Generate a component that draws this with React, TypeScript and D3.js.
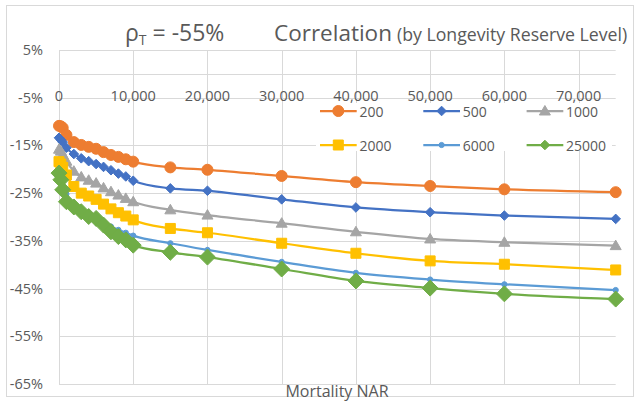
import React, { useEffect, useRef } from 'react';
import * as d3 from 'd3';

// Mortality NAR values (x) shared by every series
const nar = [0, 250, 500, 1000, 2000, 3000, 4000, 5000, 6000, 7000, 8000, 9000, 10000, 15000, 20000, 30000, 40000, 50000, 60000, 75000];

// correlation in %, one list per longevity reserve level
const lr200 = [-10.9, -11.0, -11.3, -12.8, -14.3, -14.9, -15.3, -15.7, -16.4, -17.0, -17.4, -17.9, -18.4, -19.6, -20.1, -21.4, -22.7, -23.5, -24.2, -24.8];
const lr500 = [-13.4, -13.8, -14.3, -15.5, -16.8, -17.7, -18.3, -18.9, -19.5, -20.2, -20.9, -21.5, -22.4, -24.0, -24.5, -26.3, -28.0, -29.0, -29.7, -30.4];
const lr1000 = [-15.8, -16.2, -16.9, -18.3, -20.4, -21.6, -22.3, -22.9, -23.9, -24.7, -25.4, -26.1, -26.8, -28.5, -29.6, -31.3, -33.1, -34.6, -35.3, -36.0];
const lr2000 = [-18.4, -18.9, -19.6, -21.2, -23.6, -25.0, -25.6, -26.3, -27.3, -28.3, -29.1, -29.8, -30.6, -32.4, -33.3, -35.5, -37.6, -39.2, -39.9, -41.1];
const lr6000 = [-20.6, -21.5, -22.6, -25.2, -27.3, -28.4, -29.3, -29.9, -31.0, -32.0, -32.7, -33.3, -33.9, -35.5, -36.9, -39.4, -41.7, -43.1, -44.1, -45.3];
const lr25000 = [-20.8, -22.2, -24.3, -26.8, -27.9, -28.9, -29.9, -30.3, -31.7, -33.1, -34.1, -34.8, -35.9, -37.4, -38.4, -40.9, -43.4, -44.9, -46.1, -47.2];

const seriesNames = ['200', '500', '1000', '2000', '6000', '25000'];
const seriesValues = [lr200, lr500, lr1000, lr2000, lr6000, lr25000];

const xTicks = [0, 10000, 20000, 30000, 40000, 50000, 60000, 70000];
const yTicks = [5, -5, -15, -25, -35, -45, -55, -65];

const colors = ['#ED7D31', '#4472C4', '#A5A5A5', '#FFC000', '#5B9BD5', '#70AD47'];
const shapes = ['circle', 'diamond', 'triangle', 'square', 'dot', 'bigdiamond'];

const FONT = '"Open Sans", sans-serif';
const TEXT = '#595959';

function markerPath(shape) {
  switch (shape) {
    case 'circle':
      return d3.symbol(d3.symbolCircle, Math.PI * 5.5 * 5.5)();
    case 'dot':
      return d3.symbol(d3.symbolCircle, Math.PI * 2.6 * 2.6)();
    case 'diamond':
      return 'M0,-4.8L4.8,0L0,4.8L-4.8,0Z';
    case 'bigdiamond':
      return 'M0,-8L8,0L0,8L-8,0Z';
    case 'triangle':
      return 'M0,-5.5L5.5,4L-5.5,4Z';
    case 'square':
      return 'M-5,-5H5V5H-5Z';
    default:
      return '';
  }
}

export default function App() {
  const ref = useRef(null);

  useEffect(() => {
    const svg = d3.select(ref.current);
    svg.selectAll('*').remove();

    const x = d3.scaleLinear().domain([0, 75000]).range([59, 615.7]);
    const y = d3.scaleLinear().domain([-65, 5]).range([384, 50]);

    svg.append('rect')
      .attr('x', 6.5).attr('y', 5.5).attr('width', 627).attr('height', 391)
      .attr('fill', 'white').attr('stroke', '#D9D9D9');

    // gridlines
    const grid = svg.append('g').attr('stroke', '#D9D9D9').attr('stroke-width', 1);
    grid.selectAll('line.h')
      .data(yTicks.concat([0]))
      .enter().append('line')
      .attr('x1', x(0)).attr('x2', x(75000))
      .attr('y1', d => Math.round(y(d)) + 0.5).attr('y2', d => Math.round(y(d)) + 0.5);
    grid.selectAll('line.v')
      .data(xTicks)
      .enter().append('line')
      .attr('x1', d => Math.round(x(d)) + 0.5).attr('x2', d => Math.round(x(d)) + 0.5)
      .attr('y1', y(5)).attr('y2', y(-65));

    // y labels
    svg.append('g').selectAll('text')
      .data(yTicks)
      .enter().append('text')
      .attr('x', 43).attr('y', d => y(d) + 5)
      .attr('text-anchor', 'end')
      .style('font-family', FONT).style('font-size', '14.5px').attr('fill', TEXT)
      .text(d => d + '%');

    // legend box hides the grid behind it
    const legend = svg.append('g');
    legend.append('rect')
      .attr('x', 316).attr('y', 103).attr('width', 296).attr('height', 48)
      .attr('fill', 'white');

    // x labels, sitting under the 0% axis line
    svg.append('g').selectAll('text')
      .data(xTicks)
      .enter().append('text')
      .attr('x', d => x(d)).attr('y', 101)
      .attr('text-anchor', 'middle')
      .style('font-family', FONT).style('font-size', '14.5px').attr('fill', TEXT)
      .text(d => d3.format(',')(d));

    // series
    const line = d3.line()
      .x((d, i) => x(nar[i]))
      .y(d => y(d))
      .curve(d3.curveMonotoneX);

    seriesValues.forEach((vals, s) => {
      const g = svg.append('g');
      g.append('path')
        .attr('d', line(vals))
        .attr('fill', 'none')
        .attr('stroke', colors[s])
        .attr('stroke-width', 2.25)
        .attr('stroke-linejoin', 'round');
      g.selectAll('path.m')
        .data(vals)
        .enter().append('path')
        .attr('class', 'm')
        .attr('d', markerPath(shapes[s]))
        .attr('transform', (d, i) => `translate(${x(nar[i])},${y(d)})`)
        .attr('fill', colors[s])
        .attr('stroke', colors[s]);
    });

    seriesNames.forEach((name, s) => {
      const lx = 320 + (s % 3) * 103.3;
      const ly = s < 3 ? 111 : 145;
      legend.append('line')
        .attr('x1', lx).attr('x2', lx + 36.7)
        .attr('y1', ly).attr('y2', ly)
        .attr('stroke', colors[s]).attr('stroke-width', 2.25);
      legend.append('path')
        .attr('d', markerPath(shapes[s] === 'bigdiamond' ? 'diamond' : shapes[s]))
        .attr('transform', `translate(${lx + 18.3},${ly})`)
        .attr('fill', colors[s]).attr('stroke', colors[s]);
      legend.append('text')
        .attr('x', lx + 39.5).attr('y', ly + 5.5)
        .style('font-family', FONT).style('font-size', '14px').attr('fill', TEXT)
        .text(name);
    });

    // title
    const title = svg.append('text')
      .attr('y', 41)
      .style('font-family', FONT).attr('fill', TEXT);
    title.append('tspan').attr('x', 125).style('font-size', '23px').text('ρ');
    title.append('tspan').style('font-size', '14px').attr('dy', 4).text('T');
    title.append('tspan').style('font-size', '23px').attr('dy', -4).text(' = -55%');
    title.append('tspan').attr('x', 274).style('font-size', '22.5px').text('Correlation');
    title.append('tspan').attr('x', 397).style('font-size', '17.7px').text('(by Longevity Reserve Level)');

    svg.append('text')
      .attr('x', 337).attr('y', 397)
      .attr('text-anchor', 'middle')
      .style('font-family', FONT).style('font-size', '16px').attr('fill', TEXT)
      .text('Mortality NAR');
  }, []);

  return (
    <svg
      ref={ref}
      width={641}
      height={402}
      style={{ position: 'absolute', left: 0, top: 0, background: 'white' }}
    />
  );
}
